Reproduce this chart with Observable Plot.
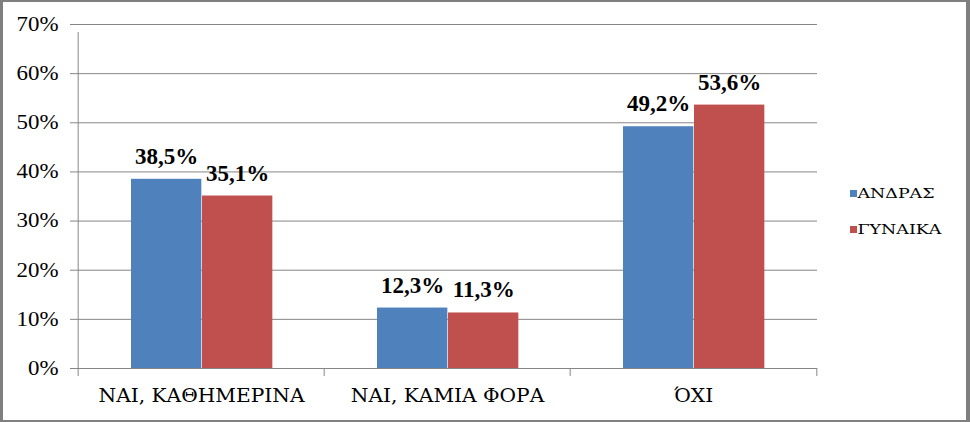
<!DOCTYPE html>
<html><head><meta charset="utf-8">
<script src="https://cdn.jsdelivr.net/npm/d3@7"></script>
<script src="https://cdn.jsdelivr.net/npm/@observablehq/plot@0.6"></script>
<style>
body{margin:0;background:#fff}
#wrap{position:relative;width:970px;height:422px;overflow:hidden;background:#fff}
#chart{position:absolute;left:0;top:0}
#legend{position:absolute;left:0;top:0}
#frame{position:absolute;left:0;top:0;width:970px;height:422px;box-sizing:border-box;border-style:solid;border-color:#7f7f7f;border-width:2px 4px 2px 3px;pointer-events:none}
</style></head>
<body><div id="wrap"><div id="chart"></div><svg id="legend" width="970" height="422"></svg><div id="frame"></div></div>
<script>
const categories = ["ΝΑΙ, ΚΑΘΗΜΕΡΙΝΑ", "ΝΑΙ, ΚΑΜΙΑ ΦΟΡΑ", "ΌΧΙ"];
const series = ["ΑΝΔΡΑΣ", "ΓΥΝΑΙΚΑ"];
const andras = [0.385, 0.123, 0.492];
const gynaika = [0.351, 0.113, 0.536];
const yTicks = [0, 0.1, 0.2, 0.3, 0.4, 0.5, 0.6, 0.7];
const colors = ["#4F81BD", "#C0504D"];

const rows = categories.flatMap((c, i) => [
  {cat: c, s: series[0], v: andras[i]},
  {cat: c, s: series[1], v: gynaika[i]}
]);

const W = 970, H = 422, ML = 77, MR = 153, MT = 24, MB = 54;
const bw = (W - ML - MR) / categories.length;
const gap = 53, barW = 71;
const numFont = "Liberation Serif, Times New Roman, serif";
const greekFont = "DejaVu Serif, serif";
const grey = "#868686";
const loc = d3.formatLocale({decimal: ",", thousands: ".", grouping: [3], currency: ["", "€"], percent: "%"});
const pct1 = loc.format(".1%");

const s0 = rows.filter(d => d.s === series[0]);
const s1 = rows.filter(d => d.s === series[1]);

const chart = Plot.plot({
  width: W, height: H,
  marginLeft: ML, marginRight: MR, marginTop: MT, marginBottom: MB,
  style: {fontFamily: numFont, color: "#000", background: "transparent"},
  x: {type: "band", domain: categories, paddingInner: 0, paddingOuter: 0, label: null},
  y: {domain: [0, 0.7], label: null},
  color: {domain: series, range: colors},
  marks: [
    Plot.ruleY(yTicks, {y: d => d, stroke: grey, strokeWidth: 1}),
    Plot.axisY({ticks: yTicks, tickSize: 7, tickPadding: 12, tickFormat: d3.format(".0%"), fontSize: 20, fontFamily: numFont, stroke: grey, fill: "#000", label: null}),
    Plot.axisX({tickSize: 0, tickPadding: 21, fontSize: 18, fontFamily: greekFont, fill: "#000", label: null}),
    Plot.barY(s0, {x: "cat", y: "v", fill: "s", insetLeft: gap, insetRight: bw - gap - barW}),
    Plot.barY(s1, {x: "cat", y: "v", fill: "s", insetLeft: gap + barW, insetRight: bw - gap - 2 * barW}),
    Plot.ruleX([categories[0]], {x: d => d, dx: -bw / 2, y1: 0, y2: 0.7, insetBottom: -8, stroke: grey}),
    Plot.ruleX(categories, {x: d => d, dx: -bw / 2, y1: 0, y2: 0, insetBottom: -8, stroke: grey}),
    Plot.ruleX([categories[categories.length - 1]], {x: d => d, dx: bw / 2, y1: 0, y2: 0, insetBottom: -8, stroke: grey}),
    Plot.text(s0, {x: "cat", y: "v", text: d => pct1(d.v), dx: gap + barW / 2 - bw / 2, dy: -15.5, lineAnchor: "bottom", fontSize: 23, fontWeight: "bold", fontFamily: numFont, fill: "#000"}),
    Plot.text(s1, {x: "cat", y: "v", text: d => pct1(d.v), dx: gap + 1.5 * barW - bw / 2, dy: -15.5, lineAnchor: "bottom", fontSize: 23, fontWeight: "bold", fontFamily: numFont, fill: "#000"})
  ]
});
document.getElementById("chart").appendChild(chart);

function stretch(root, sel, f) {
  root.querySelectorAll(sel).forEach(t => {
    const l = t.getComputedTextLength();
    t.setAttribute("textLength", l * f);
    t.setAttribute("lengthAdjust", "spacingAndGlyphs");
  });
}
function fitFactor(root, sel, target) {
  const t = root.querySelector(sel);
  return t ? target / t.getComputedTextLength() : 1;
}
stretch(chart, 'g[aria-label="y-axis tick label"] text', 1.145);
const catSel = 'g[aria-label="x-axis tick label"] text';
stretch(chart, catSel, fitFactor(chart, catSel, 206));

// legend
const lg = d3.select("#legend");
const items = lg.selectAll("g").data(series).join("g")
  .attr("transform", (d, i) => `translate(850, ${190 + i * 36})`);
items.append("rect").attr("width", 7).attr("height", 7).attr("fill", (d, i) => colors[i]);
items.append("text").attr("x", 7.5).attr("y", 7.5)
  .attr("font-family", greekFont).attr("font-size", 12.5).attr("fill", "#000")
  .text(d => d);
const legEl = document.getElementById("legend");
stretch(legEl, "text", fitFactor(legEl, "text", 77));
</script>
</body></html>
